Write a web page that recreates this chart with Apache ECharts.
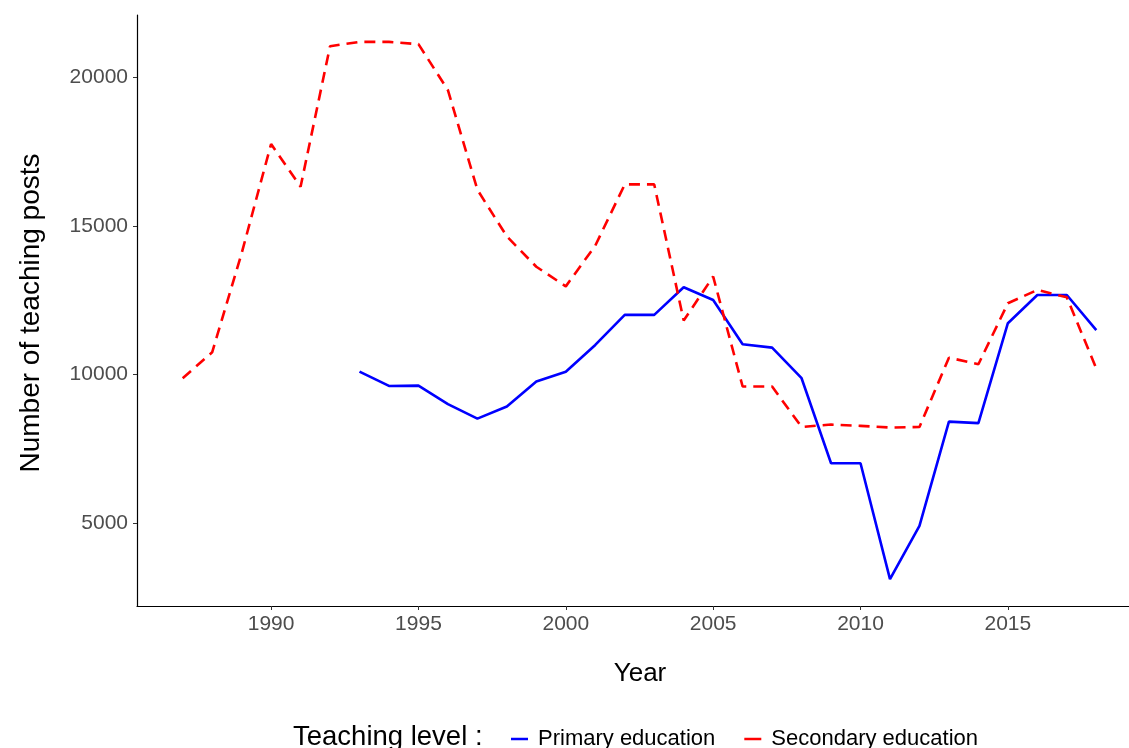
<!DOCTYPE html>
<html>
<head>
<meta charset="utf-8">
<script src="https://cdn.jsdelivr.net/npm/echarts@6/dist/echarts.min.js"></script>
<style>
html,body{margin:0;padding:0;background:#fff;}
#chart{width:1129px;height:748px;}
</style>
</head>
<body>
<div id="chart"></div>
<script>
// Data
const primaryYears = [1993,1994,1995,1996,1997,1998,1999,2000,2001,2002,2003,2004,2005,2006,2007,2008,2009,2010,2011,2012,2013,2014,2015,2016,2017,2018];
const primaryValues = [10100,9620,9630,9010,8520,8930,9770,10100,11000,12010,12010,12940,12510,11020,10910,9880,7020,7020,3120,4910,8420,8370,11730,12680,12680,11500];
const secondaryYears = [1987,1988,1989,1990,1991,1992,1993,1994,1995,1996,1997,1998,1999,2000,2001,2002,2003,2004,2005,2006,2007,2008,2009,2010,2011,2012,2013,2014,2015,2016,2017,2018];
const secondaryValues = [9880,10750,14080,17760,16320,21050,21195,21195,21120,19570,16220,14650,13630,12970,14340,16400,16400,11820,13300,9600,9600,8240,8320,8275,8220,8240,10570,10350,12400,12850,12600,10210];
const xTicks = [1990,1995,2000,2005,2010,2015];
const yTicks = [5000,10000,15000,20000];
const seriesNames = ['Primary education','Secondary education'];
const legendTitle = 'Teaching level :';
const xTitle = 'Year';
const yTitle = 'Number of teaching posts';

const pair = (xs, ys) => xs.map((x, i) => [x, ys[i]]);
const FONT = '"Liberation Sans", Arial, sans-serif';

const chart = echarts.init(document.getElementById('chart'), null, {renderer: 'canvas'});
chart.setOption({
  animation: false,
  backgroundColor: '#ffffff',
  grid: {left: 137, right: 0, top: 15, bottom: 142, containLabel: false},
  xAxis: {
    type: 'value',
    min: 1985.45, max: 2019.11,
    splitLine: {show: false},
    axisLine: {show: true, onZero: false, lineStyle: {color: '#000', width: 1.2}},
    axisTick: {show: true, length: 4, customValues: xTicks, lineStyle: {color: '#333', width: 1}},
    axisLabel: {customValues: xTicks, color: '#4d4d4d', fontSize: 21, fontFamily: FONT, margin: 8, formatter: v => String(v)}
  },
  yAxis: {
    type: 'value',
    min: 2216, max: 22100,
    splitLine: {show: false},
    axisLine: {show: true, onZero: false, lineStyle: {color: '#000', width: 1.2}},
    axisTick: {show: true, length: 4, customValues: yTicks, lineStyle: {color: '#333', width: 1}},
    axisLabel: {customValues: yTicks, color: '#4d4d4d', fontSize: 21, fontFamily: FONT, margin: 9, formatter: v => String(v)}
  },
  legend: {
    left: 506, top: 723,
    itemWidth: 17, itemHeight: 2.5, itemGap: 29,
    icon: 'rect',
    textStyle: {fontSize: 22, fontFamily: FONT, color: '#000', padding: [0, 0, 0, 5]},
    data: seriesNames
  },
  graphic: [
    {type: 'text', left: 293, top: 723, style: {text: legendTitle, fontSize: 27.5, fontFamily: FONT, fill: '#000'}},
    {type: 'text', x: 640, y: 674, style: {text: xTitle, fontSize: 26, fontFamily: FONT, fill: '#000', align: 'center', verticalAlign: 'middle'}},
    {type: 'text', x: 31, y: 313, rotation: Math.PI / 2, style: {text: yTitle, fontSize: 28, fontFamily: FONT, fill: '#000', align: 'center', verticalAlign: 'middle'}}
  ],
  series: [
    {
      name: seriesNames[0], type: 'line', data: pair(primaryYears, primaryValues),
      symbol: 'none', color: '#0000ff',
      lineStyle: {color: '#0000ff', width: 2.6, type: 'solid'}
    },
    {
      name: seriesNames[1], type: 'line', data: pair(secondaryYears, secondaryValues),
      symbol: 'none', color: '#ff0000',
      lineStyle: {color: '#ff0000', width: 2.6, type: [11, 7]}
    }
  ]
});
</script>
</body>
</html>
